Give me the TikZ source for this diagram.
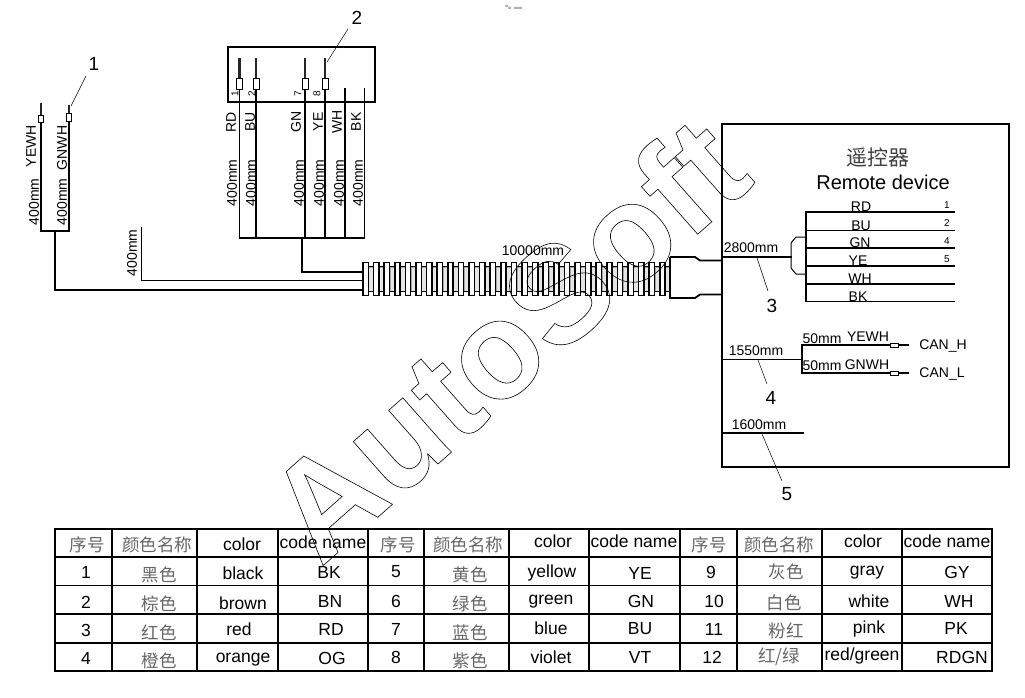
\documentclass[tikz,border=0pt]{standalone}
\usepackage{fontspec}
\setmainfont{Liberation Sans}
\newfontfamily\cjk{Noto Sans CJK SC}
\tikzset{
 x=1pt,y=-1pt,
 wire/.style={line width=1.4pt,line cap=rect},
 thickwire/.style={line width=1.9pt,line cap=rect},
 lead/.style={line width=0.5pt},
 lab/.style={font=\fontsize{14}{14}\selectfont,inner sep=0pt},
 vlab/.style={lab,rotate=90},
 tiny/.style={font=\fontsize{10}{10}\selectfont,inner sep=0pt},
 callout/.style={font=\fontsize{19}{19}\selectfont,inner sep=0pt},
 tt/.style={font=\fontsize{17.5}{17.5}\selectfont,inner sep=0pt},
 tc/.style={font=\fontsize{17.5}{17.5}\selectfont\cjk,text=black!60,inner sep=0pt},
 term/.style={draw=black,fill=white,line width=0.9pt},
 pin/.style={line width=2.8pt,draw=black!85},
}
\begin{document}
\begin{tikzpicture}
\useasboundingbox (0,0) rectangle (1025,698);
\fill[black!30] (505,5) rectangle (508,7) (508,7) rectangle (511,9) (514,7) rectangle (522,9);
% left piece
\coordinate (la) at (41,231);\coordinate (lb) at (69,231);\coordinate (lc) at (55,231);
\draw[thickwire] (41,122)--(la)--(lb)--(69,121);
\draw[thickwire] (lc)--(55,290)--(363,290);
\draw[pin] (41,103)--(41,115);\draw[pin] (69,105)--(69,113);
\draw[term] (38.5,115) rectangle (43.5,122);\draw[term] (66.5,113.5) rectangle (71.5,121);
\node[callout] (n1) at (94,64) {1};
\coordinate (t1) at (71,106);
\draw[lead] (86,76)--(t1);
\node[vlab] (ye) at (31,146) {YEWH};
\node[vlab] (gn) at (62,148) {GNWH};
\node[vlab] at (34,202) {400mm};
\node[vlab] at (62,202) {400mm};
% box 2
\node[draw,line width=1.6pt,minimum width=147pt,minimum height=55pt,anchor=north west,inner sep=0pt] (conn) at (227,46) {};
\foreach \x in {239.5,256,305,325}{\draw[wire] (\x,89)--(\x,238);\draw[pin] (\x,58)--(\x,78);\draw[term] (\x-3,78) rectangle (\x+3,89);}
\foreach \x in {345,364.5}{\draw[wire] (\x,89)--(\x,238);}
\draw[thickwire,line width=1.5pt] (239.5,238)--(364.5,238);
\draw[wire] (302,238)--(302,272)--(363,272);
\draw[wire] (141.5,228)--(141.5,280.5)--(363,280.5);
\node[callout] at (357,18) {2};
\draw[lead] (348,29)--(327,62);
\foreach \x/\t in {235/1,252/2,298/7,317/8}{\node[tiny,rotate=90] at (\x,94) {\t};}
\foreach \x/\t in {231/RD,250/BU,296/GN,318/YE,337/WH,356/BK}{\node[vlab] at (\x,122) {\t};}
\foreach \x in {232,251,299,319,339,358}{\node[vlab] at (\x,183) {400mm};}
\node[vlab] at (132,253) {400mm};
% conduit
\foreach \i in {0,...,28}{
  \pgfmathsetmacro\xa{363+\i*10.6}
  \draw[line width=0.5pt,draw=black!35,fill=black!10] (\xa+5.6,267) rectangle ++(4.6,24.5);
  \draw[line width=1.5pt] (\xa,262.5) rectangle ++(5.3,33);
  \draw[line width=1.5pt] (\xa+5.3,266.5)--++(5.3,0) (\xa+5.3,291.5)--++(5.3,0);
}
\node[lab] at (533,251) {10000mm};
\draw[line width=1.8pt] (670,257)--(670,298)--(695,298)--(700,294.5)--(722,294.5);
\draw[line width=1.8pt] (670,257)--(695,257)--(700,260.5)--(722,260.5);
% remote box
\draw[line width=1.6pt] (722,124) rectangle (1009,467);
\node[font=\fontsize{21}{21}\selectfont\cjk,inner sep=0pt,text=black!75] at (878,158) {遥控器};
\node[font=\fontsize{20}{20}\selectfont,inner sep=0pt] at (883,182) {Remote device};
\draw[wire] (722,257)--(791,257);
\draw[wire,line width=1pt] (806,237)--(796,237)--(791,243)--(791,268)--(796,274)--(806,274);
\draw[wire] (806,212)--(806,301.5);
\foreach \y/\t/\xx in {212/RD/861,230.5/BU/861,248/GN/860,266/YE/858,284/WH/860,301.5/BK/858}{
 \draw[wire] (806,\y)--(954,\y);
 \node[lab,anchor=base] at (\xx,\y-0.5) {\t};
}
\foreach \y/\t in {212/1,230.5/2,248/4,266/5}{\node[tiny] at (947,\y-7) {\t};}
\node[lab] at (751,248) {2800mm};
\draw[lead] (757,258)--(768,291);
\node[callout] at (772,306) {3};
\draw[wire] (722,359.5)--(802,359.5);
\draw[wire] (890,345)--(802,345)--(802,373)--(890,373);
\foreach \y in {345,373}{\draw[line width=2.2pt] (898,\y)--(909,\y);\draw[term] (890,\y-2) rectangle (898,\y+2);}
\node[lab] at (822,339) {50mm};\node[lab] at (868,337) {YEWH};
\node[lab] at (822,366) {50mm};\node[lab] at (867,365) {GNWH};
\node[lab] at (943,346) {CAN\_H};\node[lab] at (942,374) {CAN\_L};
\node[lab] at (756,351) {1550mm};
\draw[lead] (758,360)--(767,384);
\node[callout] at (771,398) {4};
\draw[wire] (722,433)--(803,433);
\node[lab] at (759,425) {1600mm};
\draw[lead] (762,434)--(782,481);
\node[callout] at (787,494) {5};
% table
\foreach \y in {557,585.5,614,643}{\draw[line width=1.3pt] (55,\y)--(992,\y);}
\foreach \x in {112,197,278,368,424,509,589,680,737,822,902}{\draw[line width=1.3pt] (\x,529)--(\x,671);}
\draw[line width=1.8pt] (55,529) rectangle (992,671);
\foreach \x/\y/\t in {87/545/序号,157/545/颜色名称,398/545/序号,468/545/颜色名称,709/545/序号,779/545/颜色名称,
 159/575/黑色,159/604/棕色,159/633/红色,159/661/橙色,470/575/黄色,470/604/绿色,470/633/蓝色,470/661/紫色,
 786/572/灰色,784/603/白色,786/631/粉红,779/657/{红/绿}}{\node[tc] at (\x,\y) {\t};}
\foreach \x/\y/\t in {242/544/color,323/542/code name,553/541/color,634/541/code name,863/541/color,947/541/code name,
 86/572/1,86/602/2,86/630/3,86/658/4,243/573/black,243/603/brown,239/629/red,243/660/orange,
 329/572/BK,330/601/BN,331/629/RD,332/658/OG,396/572/5,396/601/6,396/629/7,396/657/8,
 552/573/yellow,551/602/green,551/628/blue,551/657/violet,640/573/YE,641/601/GN,640/629/BU,640/657/VT,
 711/572/9,714/601/10,714/629/11,712/657/12,867/573/gray,869/601/white,869/629/pink,862/656/{red/green},
 957/572/GY,959/601/WH,956/628/PK,962/657/RDGN}{\node[tt] at (\x,\y) {\t};}
% watermark
\node[rotate=41.5,inner sep=0pt,font=\fontsize{138}{138}\selectfont\bfseries] (wm) at (506,338) {\special{pdf:code 1 Tr 0.6 w}AutoSoft\special{pdf:code 0 Tr}};
\end{tikzpicture}
\end{document}
